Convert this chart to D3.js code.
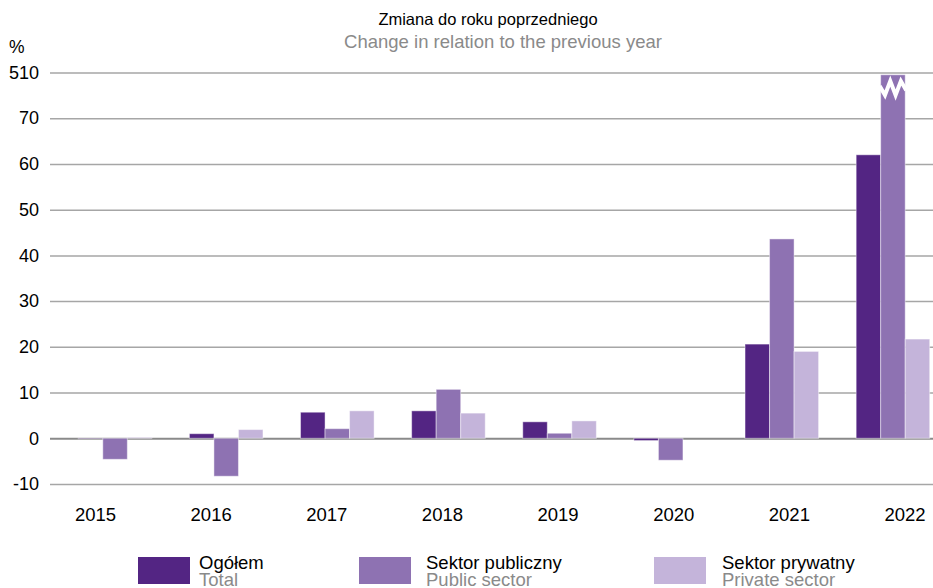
<!DOCTYPE html>
<meta charset="utf-8">

<!-- Load d3.js -->
<script src="https://d3js.org/d3.v7.min.js"></script>

<style>
    body { margin: 0; background: #fff; }
    text { font-family: "Liberation Sans", Arial, sans-serif; }
</style>

<body>
    <div id="my_dataviz"></div>

    <script>

        // data
        var years = ["2015", "2016", "2017", "2018", "2019", "2020", "2021", "2022"];
        var total = [-0.1, 1.0, 5.7, 6.0, 3.6, -0.5, 20.6, 62.0];
        var publicSector = [-4.6, -8.3, 2.1, 10.7, 1.1, -4.8, 43.6, 510];
        var privateSector = [0.2, 1.9, 6.0, 5.5, 3.8, 0.0, 19.0, 21.7];
        var yTicks = [-10, 0, 10, 20, 30, 40, 50, 60, 70, 80];
        var yTickLabels = ["-10", "0", "10", "20", "30", "40", "50", "60", "70", "510"];
        var seriesNames = ["Ogółem", "Sektor publiczny", "Sektor prywatny"];
        var seriesNamesEn = ["Total", "Public sector", "Private sector"];
        var colors = ["#532583", "#8e72b2", "#c4b4da"];

        // values above this are cut and drawn with a break
        var breakCap = 79.5;

        var width = 933, height = 588;

        var svg = d3.select("#my_dataviz").append("svg")
            .attr("width", width)
            .attr("height", height);

        // scales
        var y = d3.scaleLinear().domain([-10, 80]).range([484, 72.5]);

        var x = d3.scaleBand()
            .domain(years)
            .range([59.5, 948.5])
            .paddingInner(0.338)
            .paddingOuter(0.169);

        var xSub = d3.scaleBand()
            .domain([0, 1, 2])
            .range([0, x.bandwidth()]);

        // year labels sit on their own spacing
        var xLabel = d3.scalePoint().domain(years).range([95.5, 905]);

        // titles
        svg.append("text")
            .attr("x", 488).attr("y", 25)
            .attr("text-anchor", "middle")
            .style("font-size", "16.5px")
            .style("fill", "#000")
            .text("Zmiana do roku poprzedniego");

        svg.append("text")
            .attr("x", 503).attr("y", 48)
            .attr("text-anchor", "middle")
            .style("font-size", "18.5px")
            .style("fill", "#8a8a8a")
            .text("Change in relation to the previous year");

        svg.append("text")
            .attr("x", 9).attr("y", 53)
            .style("font-size", "17.5px")
            .text("%");

        // gridlines and y labels
        var yAxis = d3.axisLeft(y)
            .tickValues(yTicks)
            .tickSize(-(width - 50))
            .tickPadding(10)
            .tickFormat(function (d, i) { return yTickLabels[i]; });

        var gy = svg.append("g")
            .attr("transform", "translate(50,0)")
            .call(yAxis);

        gy.select(".domain").remove();
        gy.selectAll(".tick line")
            .attr("stroke", function (d) { return d === 0 ? "#8a8a8a" : "#a6a6a6"; })
            .attr("stroke-width", function (d) { return d === 0 ? 2 : 1.5; });
        gy.selectAll(".tick text")
            .attr("x", -11)
            .style("font-size", "18px")
            .style("fill", "#000")
            .style("font-family", "'Liberation Sans', Arial, sans-serif");

        // bars
        var seriesData = [total, publicSector, privateSector];

        var groups = svg.append("g")
            .selectAll("g")
            .data(years)
            .enter().append("g")
            .attr("transform", function (d) { return "translate(" + x(d) + ",0)"; });

        groups.selectAll("rect")
            .data(function (d, i) {
                return seriesData.map(function (s, k) { return { k: k, v: s[i], year: d }; });
            })
            .enter().append("rect")
            .attr("x", function (d) { return xSub(d.k); })
            .attr("width", xSub.bandwidth())
            .attr("y", function (d) { return y(Math.max(0, Math.min(d.v, breakCap))); })
            .attr("height", function (d) {
                return Math.abs(y(Math.min(d.v, breakCap)) - y(0));
            })
            .style("fill", function (d) { return colors[d.k]; })
            .style("stroke", "#fff")
            .style("stroke-opacity", 0.45)
            .style("stroke-width", 1);

        // break mark on the cut bar
        groups.filter(function (d, i) { return publicSector[i] > breakCap; })
            .append("path")
            .attr("d", function () {
                var x0 = xSub(1) - 1, w = xSub.bandwidth() + 2;
                var mid = y(76.6), a = 7;
                var n = 5, pts = [];
                for (var j = 0; j <= n; j++) {
                    pts.push([x0 + w * j / n, mid + (j % 2 === 0 ? -a : a) * (j === 0 || j === n ? 0.3 : 1)]);
                }
                return d3.line()(pts);
            })
            .style("fill", "none")
            .style("stroke", "#fff")
            .style("stroke-width", 4);

        // x labels
        svg.append("g")
            .selectAll("text")
            .data(years)
            .enter().append("text")
            .attr("x", function (d) { return xLabel(d); })
            .attr("y", 521)
            .attr("text-anchor", "middle")
            .style("font-size", "18.5px")
            .text(function (d) { return d; });

        // legend
        var legendX = [138, 359, 654];
        var legendTextDx = [61, 67, 68];

        var legend = svg.append("g")
            .selectAll("g")
            .data(seriesNames)
            .enter().append("g")
            .attr("transform", function (d, i) { return "translate(" + legendX[i] + ",557)"; });

        legend.append("rect")
            .attr("width", 52).attr("height", 27)
            .style("fill", function (d, i) { return colors[i]; });

        legend.append("text")
            .attr("x", function (d, i) { return legendTextDx[i]; }).attr("y", 12)
            .style("font-size", "18.5px")
            .text(function (d) { return d; });

        legend.append("text")
            .attr("x", function (d, i) { return legendTextDx[i]; }).attr("y", 29)
            .style("font-size", "18.5px")
            .style("fill", "#8a8a8a")
            .text(function (d, i) { return seriesNamesEn[i]; });

    </script>
</body>

</html>
